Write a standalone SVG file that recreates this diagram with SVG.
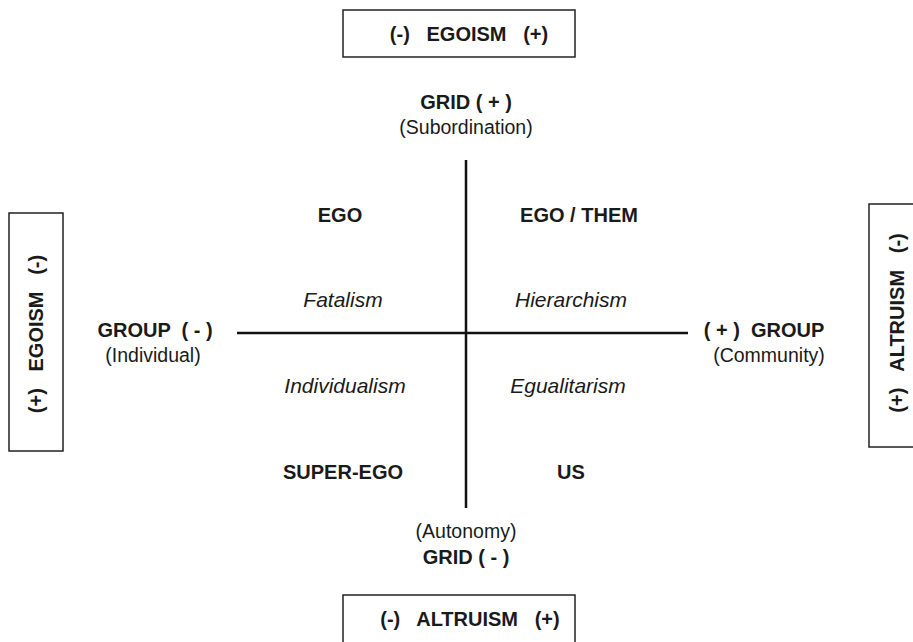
<svg xmlns="http://www.w3.org/2000/svg" width="913" height="642" viewBox="0 0 913 642">
<style>
text{font-family:"Liberation Sans",Arial,sans-serif;font-size:19.5px;fill:#1a1a1a;text-anchor:middle}
.b{font-weight:bold;font-size:20px}
.i{font-style:italic;font-size:21px}
.box{fill:#fff;stroke:#222;stroke-width:1.5}
.ax{stroke:#111;stroke-width:2.5}
</style>
<rect width="913" height="642" fill="#fff"/>
<g id="top-box"><rect class="box" x="343" y="10" width="232" height="47"/><text class="b" x="469" y="41" xml:space="preserve">(-)   EGOISM   (+)</text></g>
<g id="bottom-box"><rect class="box" x="343" y="595" width="232" height="60"/><text class="b" x="470" y="626" xml:space="preserve">(-)   ALTRUISM   (+)</text></g>
<g id="left-box"><rect class="box" x="9" y="213" width="54" height="238"/><text class="b" transform="translate(43,334) rotate(-90)" xml:space="preserve">(+)   EGOISM   (-)</text></g>
<g id="right-box"><rect class="box" x="869" y="204" width="60" height="243"/><text class="b" transform="translate(904,323) rotate(-90)" xml:space="preserve">(+)   ALTRUISM   (-)</text></g>
<g id="connectors">
<line class="ax" x1="466" y1="160" x2="466" y2="508"/>
<line class="ax" x1="237" y1="333" x2="688" y2="333"/>
</g>
<g id="grid-plus"><text class="b" x="466" y="109">GRID ( + )</text><text x="466" y="134">(Subordination)</text></g>
<g id="grid-minus"><text x="466" y="538">(Autonomy)</text><text class="b" x="466" y="564">GRID ( - )</text></g>
<g id="group-minus"><text class="b" x="155" y="337" xml:space="preserve">GROUP  ( - )</text><text x="153" y="362">(Individual)</text></g>
<g id="group-plus"><text class="b" x="764" y="337" xml:space="preserve">( + )  GROUP</text><text x="769" y="362">(Community)</text></g>
<g id="q1"><text class="b" x="340" y="222">EGO</text><text class="i" x="343" y="307">Fatalism</text></g>
<g id="q2"><text class="b" x="579" y="222">EGO / THEM</text><text class="i" x="571" y="307">Hierarchism</text></g>
<g id="q3"><text class="i" x="345" y="393">Individualism</text><text class="b" x="343" y="479">SUPER-EGO</text></g>
<g id="q4"><text class="i" x="568" y="393">Egualitarism</text><text class="b" x="571" y="479">US</text></g>
</svg>
